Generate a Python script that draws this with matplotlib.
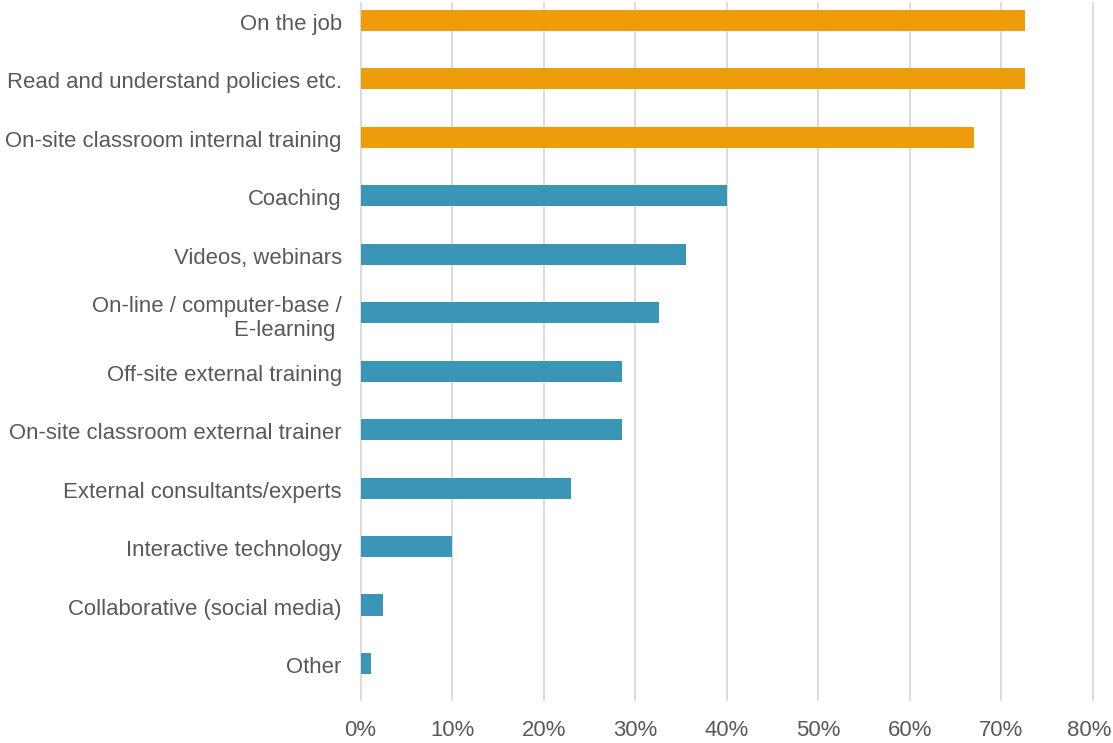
import matplotlib
matplotlib.use("Agg")
import matplotlib.pyplot as plt
import matplotlib.transforms as mtransforms
from matplotlib.ticker import PercentFormatter

categories = [
    "On the job",
    "Read and understand policies etc.",
    "On-site classroom internal training",
    "Coaching",
    "Videos, webinars",
    "On-line / computer-base /\nE-learning ",
    "Off-site external training",
    "On-site classroom external trainer",
    "External consultants/experts",
    "Interactive technology",
    "Collaborative (social media)",
    "Other",
]
values = [0.726, 0.726, 0.670, 0.400, 0.356, 0.326, 0.286, 0.286, 0.230, 0.100, 0.025, 0.0115]
highlight = [True, True, True, False, False, False, False, False, False, False, False, False]
xticks = [0, 0.1, 0.2, 0.3, 0.4, 0.5, 0.6, 0.7, 0.8]

ORANGE = "#EE9C0A"
TEAL = "#3A95B6"
GRID = "#D9D9D9"
TXT = "#595959"

plt.rcParams["font.family"] = ["Liberation Sans", "DejaVu Sans"]

W, H = 1113, 743
fig = plt.figure(figsize=(W / 100, H / 100), dpi=100)
left = 360.5 / W
right = 1093 / W
top_px, bot_px = 3, 700
ax = fig.add_axes([left, (H - bot_px) / H, right - left, (bot_px - top_px) / H])

y = list(range(len(categories)))
colors = [ORANGE if h else TEAL for h in highlight]
ax.barh(y, values, height=0.36, color=colors, zorder=3)

ax.set_xlim(0, 0.8)
ax.set_ylim(11.625, -0.299)

for t in xticks:
    ax.axvline(t, color=GRID, lw=1.3, zorder=1, clip_on=False)

for s in ax.spines.values():
    s.set_visible(False)

ax.set_xticks(xticks)
ax.xaxis.set_major_formatter(PercentFormatter(1.0, decimals=0))
ax.set_yticks(y)
ax.set_yticklabels(categories, multialignment="right")
ax.tick_params(axis="x", length=0, pad=14.5, labelsize=15.9, labelcolor=TXT)
ax.tick_params(axis="y", length=0, pad=13.5, labelsize=15.9, labelcolor=TXT)

# small nudges to match reference placement
ydown = mtransforms.ScaledTranslation(0, -1.5 / 100, fig.dpi_scale_trans)
for lbl in ax.get_yticklabels():
    lbl.set_transform(lbl.get_transform() + ydown)
xlbls = ax.get_xticklabels()
xlbls[-1].set_transform(xlbls[-1].get_transform() + mtransforms.ScaledTranslation(-4 / 100, 0, fig.dpi_scale_trans))

fig.savefig("out.png", dpi=100)
